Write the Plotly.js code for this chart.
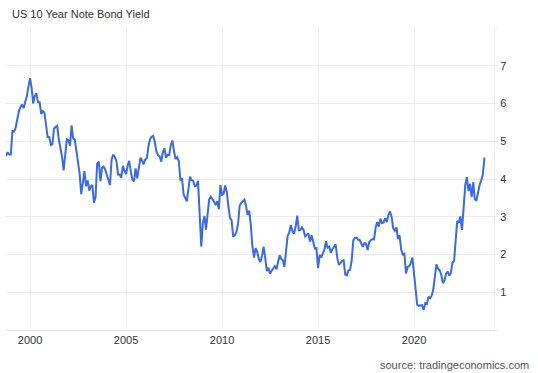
<!DOCTYPE html>
<html>
<head>
<meta charset="utf-8">
<script src="https://cdn.plot.ly/plotly-3.0.1.min.js"></script>
<style>
  html, body { margin: 0; padding: 0; background: #fff; }
  #chart { width: 538px; height: 373px; }
</style>
</head>
<body>
<div id="chart"></div>
<script>
// Monthly US 10Y yields, first month = Oct 1998
const startYear = 1998;
const startMonth = 10;
const yields = [
  // 1998 Oct-Dec
  4.61, 4.71, 4.65,
  // 1999
  4.65, 5.29, 5.24, 5.35, 5.62, 5.78, 5.90, 5.97, 5.88, 6.02, 6.19, 6.44,
  // 2000
  6.67, 6.41, 6.00, 6.21, 6.27, 6.03, 6.03, 5.72, 5.80, 5.75, 5.47, 5.11,
  // 2001
  5.11, 4.90, 4.92, 5.34, 5.38, 5.41, 5.06, 4.84, 4.59, 4.23, 4.75, 5.05,
  // 2002
  5.03, 4.88, 5.42, 5.08, 5.04, 4.80, 4.46, 4.14, 3.60, 3.89, 4.21, 3.81,
  // 2003
  3.96, 3.69, 3.80, 3.84, 3.37, 3.52, 4.41, 4.46, 3.94, 4.29, 4.33, 4.25,
  // 2004
  4.13, 3.97, 3.84, 4.51, 4.65, 4.58, 4.48, 4.12, 4.12, 4.03, 4.35, 4.22,
  // 2005
  4.13, 4.36, 4.48, 4.20, 3.98, 3.94, 4.28, 4.02, 4.32, 4.56, 4.49, 4.39,
  // 2006
  4.52, 4.55, 4.85, 5.05, 5.12, 5.14, 4.98, 4.73, 4.63, 4.60, 4.46, 4.70,
  // 2007
  4.82, 4.56, 4.64, 4.63, 4.89, 5.02, 4.74, 4.53, 4.58, 4.47, 3.96, 4.02,
  // 2008
  3.59, 3.51, 3.41, 3.73, 4.06, 3.97, 3.95, 3.81, 3.83, 3.95, 2.92, 2.21,
  // 2009
  2.84, 3.02, 2.66, 3.12, 3.46, 3.53, 3.48, 3.40, 3.31, 3.41, 3.20, 3.84,
  // 2010
  3.58, 3.61, 3.83, 3.66, 3.29, 2.97, 2.91, 2.47, 2.51, 2.60, 2.80, 3.29,
  // 2011
  3.37, 3.42, 3.45, 3.29, 3.05, 3.16, 2.80, 2.22, 1.92, 2.17, 2.07, 1.88,
  // 2012
  1.80, 1.97, 2.21, 1.91, 1.56, 1.65, 1.49, 1.57, 1.63, 1.69, 1.61, 1.76,
  // 2013
  1.98, 1.88, 1.85, 1.67, 2.13, 2.49, 2.58, 2.78, 2.61, 2.55, 2.74, 3.03,
  // 2014
  2.64, 2.65, 2.72, 2.65, 2.48, 2.53, 2.56, 2.34, 2.51, 2.34, 2.16, 2.17,
  // 2015
  1.64, 1.99, 1.92, 2.03, 2.12, 2.35, 2.18, 2.21, 2.04, 2.14, 2.21, 2.27,
  // 2016
  1.92, 1.73, 1.77, 1.83, 1.85, 1.47, 1.45, 1.58, 1.59, 1.83, 2.37, 2.44,
  // 2017
  2.45, 2.39, 2.39, 2.28, 2.20, 2.30, 2.29, 2.12, 2.33, 2.38, 2.41, 2.40,
  // 2018
  2.72, 2.86, 2.74, 2.95, 2.83, 2.85, 2.96, 2.86, 3.05, 3.14, 2.99, 2.69,
  // 2019
  2.63, 2.72, 2.41, 2.51, 2.13, 2.00, 2.02, 1.50, 1.67, 1.69, 1.78, 1.92,
  // 2020
  1.51, 1.15, 0.67, 0.64, 0.65, 0.66, 0.53, 0.71, 0.69, 0.88, 0.84, 0.91,
  // 2021
  1.07, 1.41, 1.74, 1.63, 1.58, 1.47, 1.24, 1.31, 1.49, 1.55, 1.44, 1.51,
  // 2022
  1.78, 1.83, 2.34, 2.89, 2.84, 3.01, 2.65, 3.19, 3.83, 4.05, 3.68, 3.87,
  // 2023 Jan-Sep
  3.52, 3.92, 3.47, 3.42, 3.64, 3.84, 3.96, 4.11, 4.57
];

const yTickVals = [0, 1, 2, 3, 4, 5, 6, 7, 8];
const yTickText = ['', '1', '2', '3', '4', '5', '6', '7', ''];
const titleText = 'US 10 Year Note Bond Yield';
const sourceText = 'source: tradingeconomics.com';

const dates = yields.map((_, i) => {
  const m = startMonth - 1 + i;
  const y = startYear + Math.floor(m / 12);
  const mm = (m % 12) + 1;
  return y + '-' + String(mm).padStart(2, '0') + '-01';
});

const trace = {
  x: dates,
  y: yields,
  type: 'scatter',
  mode: 'lines',
  line: { color: '#3a6be0', width: 2 },
  hoverinfo: 'x+y'
};

const font = 'Arial, "Liberation Sans", sans-serif';

const layout = {
  width: 538,
  height: 373,
  margin: { l: 6, r: 44, t: 28, b: 43 },
  paper_bgcolor: '#fff',
  plot_bgcolor: '#fff',
  showlegend: false,
  font: { family: font, size: 11, color: '#333' },
  xaxis: {
    type: 'date',
    range: ['1998-10-01', '2024-03-01'],
    tick0: '2000-01-01',
    dtick: 'M60',
    tickformat: '%Y',
    showgrid: true,
    gridcolor: '#efefef',
    gridwidth: 1,
    zeroline: false,
    showline: true,
    linecolor: '#e2e2e2',
    linewidth: 1,
    ticks: '',
    tickfont: { family: font, size: 11, color: '#333' },
    fixedrange: true
  },
  yaxis: {
    side: 'right',
    range: [0, 8],
    tickvals: yTickVals,
    ticktext: yTickText,
    showgrid: true,
    gridcolor: '#ebebeb',
    gridwidth: 1,
    zeroline: false,
    showline: true,
    linecolor: '#efefef',
    ticks: 'outside',
    ticklen: 3,
    tickcolor: '#ebebeb',
    tickfont: { family: font, size: 11, color: '#333' },
    fixedrange: true
  },
  annotations: [
    {
      text: titleText,
      xref: 'paper', yref: 'paper',
      x: 0, y: 1,
      xshift: 4, yshift: 14,
      xanchor: 'left', yanchor: 'middle',
      showarrow: false,
      font: { family: font, size: 11, color: '#333' }
    },
    {
      text: sourceText,
      xref: 'paper', yref: 'paper',
      x: 1, y: 0,
      xshift: 37, yshift: -35,
      xanchor: 'right', yanchor: 'middle',
      showarrow: false,
      font: { family: font, size: 11, color: '#555' }
    }
  ]
};

Plotly.newPlot('chart', [trace], layout, { displayModeBar: false, staticPlot: true });
</script>
</body>
</html>
